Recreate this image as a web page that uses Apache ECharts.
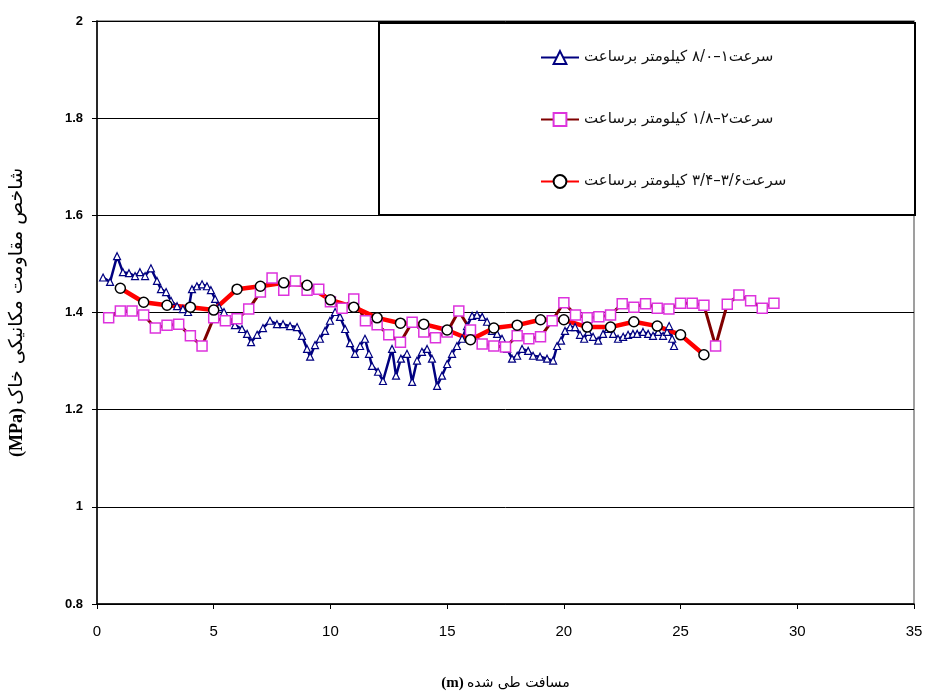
<!DOCTYPE html>
<html>
<head>
<meta charset="utf-8">
<script src="https://cdn.jsdelivr.net/npm/echarts@6/dist/echarts.min.js"></script>
<style>html,body{margin:0;padding:0;background:#fff}#c{width:926px;height:696px}</style>
</head>
<body>
<div id="c"></div>
<script>
// ---- data ----
var seriesNames = ['سرعت۱–۸/۰ کیلومتر برساعت', 'سرعت۲–۱/۸ کیلومتر برساعت', 'سرعت۳/۶–۳/۴ کیلومتر برساعت'];
var xTitleUnit = '(m)';
var xTitleText = 'مسافت طی شده';
var yTitleUnit = '(MPa)';
var yTitleText = 'شاخص مقاومت مکانیکی خاک';

var blueX = [0.26,0.56,0.86,1.11,1.37,1.63,1.84,2.06,2.31,2.57,2.74,2.96,3.17,3.43,3.68,3.90,4.07,4.28,4.50,4.71,4.88,5.06,5.23,5.44,5.66,5.91,6.21,6.43,6.60,6.86,7.11,7.41,7.71,7.97,8.27,8.57,8.78,9.00,9.13,9.34,9.55,9.77,9.98,10.20,10.41,10.63,10.84,11.05,11.27,11.48,11.65,11.78,12.04,12.25,12.64,12.81,13.02,13.28,13.50,13.71,13.92,14.14,14.35,14.57,14.78,15.00,15.21,15.42,15.64,15.85,16.07,16.28,16.50,16.71,16.92,17.14,17.35,17.57,17.78,18.00,18.21,18.47,18.68,18.98,19.28,19.54,19.71,19.88,20.05,20.27,20.48,20.69,20.87,21.04,21.25,21.47,21.68,21.89,22.11,22.32,22.54,22.75,22.96,23.14,23.39,23.61,23.82,24.04,24.25,24.42,24.51,24.64,24.72];
var blueY = [1.472,1.463,1.516,1.483,1.481,1.475,1.483,1.475,1.491,1.465,1.448,1.442,1.424,1.413,1.407,1.401,1.448,1.454,1.458,1.454,1.446,1.428,1.411,1.401,1.383,1.374,1.366,1.356,1.339,1.354,1.368,1.383,1.376,1.376,1.372,1.370,1.352,1.325,1.309,1.333,1.346,1.362,1.383,1.401,1.391,1.366,1.337,1.315,1.331,1.346,1.315,1.290,1.278,1.259,1.325,1.270,1.305,1.315,1.257,1.301,1.319,1.325,1.305,1.249,1.270,1.294,1.315,1.331,1.346,1.372,1.393,1.395,1.391,1.381,1.362,1.356,1.346,1.325,1.305,1.311,1.325,1.321,1.311,1.309,1.305,1.301,1.331,1.342,1.362,1.370,1.370,1.354,1.346,1.360,1.350,1.342,1.356,1.366,1.356,1.346,1.350,1.354,1.356,1.356,1.360,1.356,1.352,1.360,1.352,1.360,1.372,1.346,1.331];

var magentaX = [0.5,1,1.5,2,2.5,3,3.5,4,4.5,5,5.5,6,6.5,7,7.5,8,8.5,9,9.5,10,10.5,11,11.5,12,12.5,13,13.5,14,14.5,15,15.5,16,16.5,17,17.5,18,18.5,19,19.5,20,20.5,21,21.5,22,22.5,23,23.5,24,24.5,25,25.5,26,26.5,27,27.5,28,28.5,29];
var magentaY = [1.389,1.403,1.403,1.395,1.368,1.374,1.376,1.352,1.331,1.389,1.383,1.387,1.407,1.442,1.471,1.446,1.465,1.446,1.448,1.422,1.409,1.428,1.383,1.375,1.354,1.339,1.380,1.360,1.348,1.360,1.403,1.364,1.335,1.331,1.329,1.352,1.346,1.350,1.383,1.420,1.395,1.389,1.391,1.395,1.418,1.411,1.418,1.409,1.407,1.419,1.419,1.415,1.331,1.417,1.436,1.424,1.409,1.419];

var redX = [1,2,3,4,5,6,7,8,9,10,11,12,13,14,15,16,17,18,19,20,21,22,23,24,25,26];
var redY = [1.450,1.421,1.415,1.411,1.405,1.448,1.454,1.461,1.456,1.426,1.411,1.389,1.378,1.376,1.364,1.344,1.368,1.374,1.385,1.385,1.370,1.370,1.381,1.372,1.354,1.313];

var xTicks = {min: 0, max: 35, interval: 5};
var yTicks = {min: 0.8, max: 2, interval: 0.2};

function pairs(xs, ys) { return xs.map(function (x, i) { return [x, ys[i]]; }); }

var chart = echarts.init(document.getElementById('c'), null, {renderer: 'canvas'});
var persianFont = 'DejaVu Sans';
var option = {
  backgroundColor: '#ffffff',
  animation: false,
  grid: {left: 97, right: 12, top: 21, bottom: 90, show: true, borderColor: '#808080', borderWidth: 1.5, backgroundColor: 'transparent'},
  graphic: [{
    type: 'rect', z: 3, left: 378, top: 22,
    shape: {width: 536, height: 192},
    style: {fill: '#ffffff', stroke: '#000000', lineWidth: 2}
  }],
  legend: {
    orient: 'vertical', left: 540, top: 50, padding: 0, itemGap: 47,
    itemWidth: 38, itemHeight: 16, z: 5,
    textStyle: {fontFamily: persianFont, fontSize: 15, color: '#111'},
    data: seriesNames
  },
  xAxis: {
    type: 'value', min: xTicks.min, max: xTicks.max, interval: xTicks.interval,
    axisLine: {show: true, onZero: false, lineStyle: {color: '#000', width: 1.5}},
    axisTick: {show: true, inside: false, length: 5, lineStyle: {color: '#000'}},
    splitLine: {show: false},
    axisLabel: {color: '#000', fontFamily: 'Liberation Sans Narrow, Liberation Sans', fontSize: 15, margin: 20},
    name: '{b|' + xTitleUnit + '} {n|' + xTitleText + '}', nameLocation: 'middle', nameGap: 72,
    nameTextStyle: {rich: {
      b: {fontFamily: 'Liberation Serif', fontWeight: 'bold', fontSize: 15, color: '#000'},
      n: {fontFamily: persianFont, fontSize: 14, color: '#000'}
    }}
  },
  yAxis: {
    type: 'value', min: yTicks.min, max: yTicks.max, interval: yTicks.interval,
    axisLine: {show: true, onZero: false, lineStyle: {color: '#000', width: 1.5}},
    axisTick: {show: true, inside: false, length: 5, lineStyle: {color: '#000'}},
    splitLine: {show: true, lineStyle: {color: '#000', width: 1}},
    axisLabel: {color: '#000', fontFamily: 'Liberation Sans', fontWeight: 'bold', fontSize: 13, margin: 14},
    name: '{b|' + yTitleUnit + '} {n|' + yTitleText + '}', nameLocation: 'middle', nameGap: 70,
    nameTextStyle: {rich: {
      b: {fontFamily: 'Liberation Serif', fontWeight: 'bold', fontSize: 18, color: '#000'},
      n: {fontFamily: persianFont, fontSize: 19, color: '#000'}
    }}
  },
  series: [
    {
      name: seriesNames[0], type: 'line', data: pairs(blueX, blueY),
      symbol: 'triangle', symbolSize: 7, showAllSymbol: true,
      lineStyle: {color: '#000080', width: 2.5},
      itemStyle: {color: '#ffffff', borderColor: '#000080', borderWidth: 1.2}
    },
    {
      name: seriesNames[1], type: 'line', data: pairs(magentaX, magentaY),
      symbol: 'rect', symbolSize: 10, showAllSymbol: true,
      lineStyle: {color: '#800000', width: 3},
      itemStyle: {color: '#ffffff', borderColor: '#dd33dd', borderWidth: 1.5}
    },
    {
      name: seriesNames[2], type: 'line', data: pairs(redX, redY),
      symbol: 'circle', symbolSize: 10, showAllSymbol: true,
      lineStyle: {color: '#ff0000', width: 4.5},
      itemStyle: {color: '#ffffff', borderColor: '#000000', borderWidth: 1.5}
    }
  ]
};
chart.setOption(option);
</script>
</body>
</html>
